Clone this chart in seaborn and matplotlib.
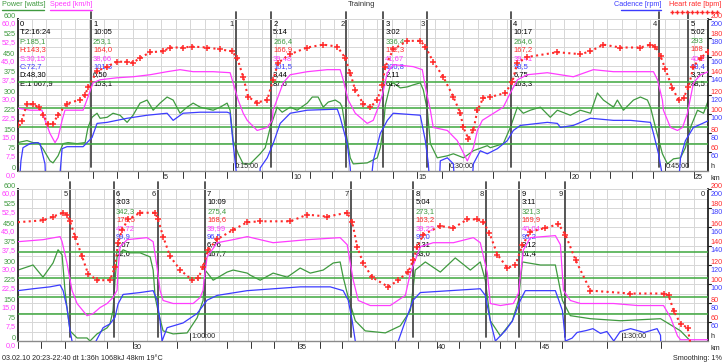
import matplotlib
matplotlib.use("Agg")
import numpy as np
import pandas as pd
import matplotlib.pyplot as plt
import seaborn as sns
from matplotlib.lines import Line2D
from matplotlib.ticker import MultipleLocator
from matplotlib import transforms

sns.set_style("white")
plt.rcParams["font.family"] = ["Liberation Sans Narrow", "Liberation Sans", "DejaVu Sans"]

# ---- recorded series: minutes from start / value ----
power_t = [0.0, 0.66, 1.08, 1.43, 1.77, 2.26, 2.47, 2.82, 3.17, 3.51, 4.14, 4.70, 4.90, 5.18, 5.53, 5.74,
           6.23, 6.64, 7.13, 7.62, 8.03, 8.52, 9.01, 9.43, 9.91, 10.40, 10.82, 11.30, 11.79, 12.21, 12.70,
           13.60, 14.09, 14.57, 14.78, 14.99, 15.34, 15.69, 16.17, 16.87, 17.22, 17.57, 18.05, 18.40, 18.96,
           19.44, 20.14, 20.49, 20.90, 21.25, 21.60, 22.09, 22.43, 22.57, 22.78, 23.13, 23.34, 24.31, 25.01,
           25.22, 25.43, 25.57, 25.91, 26.12, 26.61, 27.10, 27.51, 28.00, 28.21, 28.49, 28.70, 29.18, 29.88,
           30.30, 31.01, 31.69, 32.66, 32.87, 33.77, 34.26, 34.75, 35.16, 35.65, 36.35, 37.04, 37.53, 38.43,
           39.13, 39.83, 40.31, 40.73, 41.43, 41.70, 42.12, 42.82, 43.30, 43.79, 44.00, 44.35, 44.83, 45.18,
           45.60, 46.09, 46.43, 46.78, 47.27, 47.69, 48.03, 49.08, 49.77, 50.47, 50.82, 51.10, 51.30, 51.44,
           51.65, 52.14, 52.83, 53.04, 53.53, 54.23, 54.43, 54.64, 54.78, 54.92, 55.34, 55.83, 56.52, 57.22,
           57.43, 57.57, 57.77, 58.12, 58.82, 59.79, 60.49, 60.90, 61.04, 61.60, 62.57, 62.99, 63.97, 64.17,
           64.87, 65.77, 66.75, 67.65, 68.35, 69.25, 69.95, 70.43, 70.64, 70.92, 71.48, 72.17, 73.57, 74.61,
           75.31, 75.65, 76.35, 77.39, 78.43, 79.48, 80.17, 80.52, 80.87, 81.57, 82.40, 82.82, 83.10, 84.35,
           85.39, 85.88, 86.43, 87.83, 89.92, 92.70, 94.09, 94.78]
power_w = [112, 120, 112, 112, 88, 40, 32, 60, 108, 112, 108, 112, 172, 212, 228, 208,
           212, 228, 220, 192, 220, 268, 280, 240, 268, 292, 280, 228, 252, 268, 252,
           240, 252, 268, 240, 120, 68, 28, 28, 68, 92, 172, 252, 232, 252,
           240, 268, 292, 292, 252, 272, 280, 268, 252, 172, 52, 28, 32, 52,
           92, 172, 260, 340, 348, 328, 332, 340, 348, 320, 240, 108, 52, 60,
           68, 52, 80, 100, 92, 108, 172, 252, 228, 240, 252, 212, 240, 220,
           240, 228, 308, 280, 252, 280, 240, 280, 292, 280, 252, 172, 68, 28,
           48, 52, 92, 172, 240, 228, 280, 300, 252, 308, 360, 340, 200, 132,
           40, 12, 12, 0, 28, 52, 68, 120, 240, 332, 360, 348, 348, 332,
           280, 172, 120, 40, 28, 32, 92, 160, 280, 240, 272, 280, 268, 260,
           240, 268, 252, 288, 268, 280, 308, 312, 252, 188, 80, 40, 32, 60,
           120, 280, 312, 272, 328, 280, 312, 240, 80, 20, 80, 160, 312, 300,
           300, 160, 100, 88, 80, 88, 40, 0]

speed_t = [0.03, 0.87, 1.70, 1.91, 2.26, 2.61, 2.82, 3.10, 3.30, 4.56, 4.90, 5.25, 5.74, 6.92, 8.03, 9.22,
           10.40, 11.30, 12.21, 13.60, 14.78, 14.99, 15.34, 15.69, 15.97, 16.66, 17.36, 17.71, 17.77, 18.47,
           18.96, 20.14, 21.53, 22.43, 22.64, 22.99, 23.48, 24.31, 24.73, 25.08, 25.36, 25.71, 26.12, 27.51,
           28.14, 28.35, 28.70, 28.90, 29.88, 30.57, 31.27, 31.69, 31.97, 32.31, 32.87, 33.77, 34.26, 34.75,
           35.44, 36.83, 38.64, 40.03, 41.43, 44.21, 44.49, 44.83, 44.90, 45.39, 45.88, 46.23, 46.57, 46.99,
           47.48, 48.03, 49.77, 50.96, 51.10, 51.44, 51.79, 52.14, 52.83, 53.25, 53.74, 54.23, 54.64, 54.92,
           54.99, 55.13, 55.62, 57.01, 57.43, 57.70, 57.91, 58.12, 58.82, 60.21, 60.70, 60.90, 60.97, 61.18,
           61.88, 62.99, 63.97, 65.77, 68.14, 70.43, 70.92, 71.34, 71.69, 72.52, 73.91, 74.96, 75.31, 76.00,
           76.90, 78.30, 79.69, 80.17, 80.66, 80.87, 81.57, 82.47, 82.82, 83.17, 83.65, 85.39, 85.74, 85.95,
           86.43, 87.13, 89.43, 91.10, 92.91, 93.40, 93.88, 94.09, 96.0]
speed_v = [24.8, 24.0, 24.0, 20.0, 14.8, 11.2, 13.2, 20.0, 24.0, 24.0, 29.2, 34.8, 36.0, 36.8, 37.2, 38.0,
           39.2, 40.0, 39.2, 39.2, 38.8, 34.8, 28.0, 22.8, 20.0, 16.0, 17.2, 20.0, 24.0, 34.8,
           38.0, 39.2, 40.0, 40.0, 36.0, 28.0, 22.8, 18.8, 20.0, 25.2, 30.0, 38.8, 42.0, 41.2,
           40.0, 33.2, 24.0, 17.2, 16.0, 12.0, 4.0, 9.2, 16.0, 20.0, 22.0, 25.2, 30.8, 36.0,
           38.0, 38.8, 37.2, 40.0, 39.2, 39.2, 36.0, 28.0, 24.0, 17.2, 16.0, 17.2, 22.8, 34.8,
           38.0, 39.2, 40.0, 41.2, 39.2, 30.8, 20.0, 14.8, 10.0, 10.8, 13.2, 14.8, 17.2, 20.0,
           28.0, 37.2, 40.0, 40.8, 39.2, 29.2, 20.0, 16.0, 14.8, 14.8, 17.2, 20.0, 24.0, 33.2,
           38.8, 40.0, 41.2, 38.8, 40.0, 40.8, 38.0, 24.0, 16.0, 14.0, 14.0, 18.0, 26.8, 37.2,
           38.8, 38.8, 40.8, 38.8, 26.8, 14.8, 14.0, 14.8, 18.8, 36.0, 40.8, 41.6, 38.0, 20.0,
           16.0, 14.8, 14.8, 14.0, 14.0, 9.2, 2.0, 0.5, 0.5]

hr_t = [0.03, 0.31, 0.66, 1.08, 1.50, 1.77, 2.12, 2.47, 2.82, 3.44, 4.35, 4.70, 4.90, 5.53, 6.23, 6.92,
        7.62, 8.03, 8.52, 9.22, 10.12, 10.61, 11.51, 12.14, 13.18, 14.09, 14.92, 15.27, 15.69, 16.03,
        16.66, 17.36, 17.77, 18.12, 18.96, 20.14, 21.25, 22.23, 22.78, 23.13, 23.48, 24.03, 24.52, 25.01,
        25.36, 25.57, 26.12, 27.10, 28.00, 28.35, 28.90, 29.60, 30.30, 30.78, 30.99, 31.34, 31.69, 31.97,
        32.38, 32.87, 33.91, 34.40, 34.75, 35.44, 37.53, 39.13, 39.83, 40.73, 41.91, 43.30, 44.00, 44.35,
        44.70, 45.04, 45.53, 45.95, 46.30, 46.64, 46.99, 47.48, 47.97, 49.77, 50.47, 51.17, 51.44, 51.65,
        52.00, 52.49, 52.90, 53.53, 54.43, 54.78, 54.99, 55.27, 55.69, 56.52, 57.57, 57.77, 58.12, 58.61,
        59.30, 60.14, 60.56, 60.90, 61.25, 61.88, 62.99, 63.97, 64.87, 66.96, 68.14, 69.53, 70.92, 71.27,
        71.62, 72.03, 72.66, 73.77, 74.47, 75.17, 75.51, 75.79, 76.21, 77.39, 78.30, 79.27, 79.97, 80.38,
        80.80, 81.36, 82.05, 82.61, 83.10, 83.65, 84.70, 85.60, 86.09, 86.80, 87.83, 90.61, 92.91, 93.26,
        93.61, 94.09, 94.58, 94.78]
hr_v = [88, 93, 111, 110, 107, 99, 90, 90, 99, 111, 115, 120, 128, 145, 150, 155,
        155, 154, 159, 165, 166, 170, 170, 171, 170, 168, 166, 159, 139, 118,
        112, 115, 136, 154, 163, 170, 173, 171, 159, 143, 125, 111, 107, 115,
        131, 150, 168, 177, 177, 171, 155, 139, 118, 101, 86, 74, 83, 104,
        117, 118, 122, 134, 154, 160, 165, 163, 166, 173, 170, 170, 173, 171,
        161, 147, 127, 115, 117, 128, 150, 159, 165, 167, 171, 175, 173, 166,
        150, 129, 111, 104, 104, 118, 143, 157, 168, 175, 175, 168, 150, 129,
        115, 104, 106, 118, 136, 147, 157, 165, 166, 166, 173, 171, 175, 165,
        139, 122, 107, 97, 104, 113, 125, 139, 152, 161, 159, 168, 168, 165,
        154, 131, 117, 120, 141, 155, 159, 163, 152, 125, 93, 90, 90, 88,
        72, 58, 54, 37]

cad_t = [0.0, 0.24, 0.38, 0.87, 1.36, 1.57, 1.91, 2.05, 2.75, 3.10, 3.44, 4.56, 5.18, 5.53, 6.23, 7.62,
         9.01, 10.40, 10.82, 11.51, 12.70, 14.57, 14.78, 14.99, 15.20, 15.34, 16.73, 16.87, 17.36, 17.77,
         18.26, 18.96, 20.14, 22.23, 22.43, 22.92, 23.13, 23.27, 24.38, 24.73, 25.22, 25.71, 26.12, 28.00,
         28.35, 28.56, 28.77, 29.25, 29.39, 29.88, 30.30, 30.50, 31.48, 31.69, 32.17, 32.66, 33.36, 34.05,
         34.47, 34.96, 36.83, 37.53, 37.74, 38.64, 39.83, 41.43, 42.61, 44.00, 44.21, 44.56, 44.77, 44.90,
         45.81, 46.09, 46.43, 46.99, 47.62, 48.03, 49.08, 50.26, 50.96, 51.17, 51.44, 51.65, 51.79, 51.90,
         53.35, 53.46, 53.95, 54.43, 54.78, 54.99, 55.34, 56.52, 57.43, 57.70, 57.91, 58.05, 58.40, 59.51,
         60.49, 61.18, 61.88, 63.97, 67.65, 69.74, 70.64, 70.99, 71.27, 71.48, 71.60, 74.35, 74.47, 74.96,
         75.51, 76.00, 78.09, 80.17, 80.52, 80.87, 81.22, 81.92, 82.40, 82.96, 83.30, 85.39, 85.88, 86.09,
         86.55, 86.90, 87.53, 88.0, 88.53, 88.97, 89.45, 89.90, 90.62, 91.56, 92.46, 92.70, 92.80, 96.0]
cad_v = [0, 50.7, 64.5, 68.8, 69.9, 68.8, 47.5, 0, 0, 63.5, 65.6, 65.6, 75.2, 90.1, 91.2, 95.5,
         98.7, 100.8, 93.3, 100.8, 101.9, 101.9, 100.8, 68.8, 40, 0, 0, 43.2, 53.9, 68.8,
         90.1, 100.8, 104.0, 105.1, 96.5, 68.8, 43.2, 0, 0, 50.7, 79.5, 93.3, 100.8, 98.7,
         72.0, 47.5, 0, 0, 50.7, 53.9, 47.5, 0, 0, 47.5, 61.3, 58.1, 63.5, 72.0,
         82.7, 88.0, 91.2, 90.1, 85.9, 88.0, 95.5, 93.3, 93.3, 91.2, 79.5, 58.1, 40, 0,
         0, 53.9, 72.0, 85.9, 90.1, 93, 95, 97, 99, 93, 75, 51, 40, 0,
         0, 40, 54, 58, 65, 79, 89, 91, 93, 83, 61, 40, 54, 59,
         69, 83, 88, 93, 97, 97, 93, 83, 61, 40, 0, 0, 40, 61,
         83, 91, 93, 95, 88, 61, 40, 51, 61, 83, 93, 93, 72, 40,
         43, 49, 51, 53, 48, 50, 40, 50, 53, 49, 53, 46, 0, 0]

# ---- laps ----
lap_start = [5.11, 17.63, 25.43, 34.33, 46.64, 54.71, 61.04, 75.51, 82.89]
lap_time = ["10:05", "5:14", "3:02", "10:17", "5:02", "3:03", "10:09", "5:04", "3:11"]
lap_power = ["253,1", "266,4", "336,4", "264,6", "293", "342,3", "275,4", "273,1", "321,3"]
lap_hr = ["164,0", "166,9", "172,3", "167,2", "168", "170,5", "168,6", "163,2", "169,9"]
lap_speed = ["38,66", "39,48", "41,67", "39,41", "40,2", "40,72", "39,99", "39,22", "40,04"]
lap_cad = ["101,3", "101,5", "100,8", "98,5", "98,4", "99,9", "96,5", "99,0", "95,2"]
lap_dist = ["6,50", "3,44", "2,11", "6,75", "3,37", "2,07", "6,76", "3,31", "2,12"]
lap_extra = ["153,1", "87,6", "61,2", "163,3", "88,5", "62,6", "167,7", "83,0", "61,4"]
summary = ["0", "T:2:16:24", "P:185,1", "H:143,3", "S:30,15", "C:72,7", "D:48,30", "E:1 067,9"]

hr_zones = [134, 106, 86, 68]
# minute at which each whole km was passed (km 1 .. 48)
km_marks_t = [3.51, 5.25, 6.92, 8.38, 10.12, 11.51, 13.04, 14.57, 17.01, 19.10,
              20.35, 21.88, 23.83, 26.12, 27.79, 29.53, 33.08, 34.96, 36.70, 38.43,
              39.83, 41.22, 42.75, 44.21, 47.00, 48.03, 49.63, 51.30, 54.23, 56.03,
              59.10, 62.57, 64.24, 65.84, 67.51, 69.04, 70.57, 74.26, 75.86, 77.18,
              78.71, 80.17, 81.57, 82.61, 84.35, 85.88, 89.01, 92.70]
km_marks = list(range(1, 49))
clock_marks = [15, 30, 45, 60, 90]

GREEN, ZONE, MAG, BLUE, RED = "#3f9a3f", "#3fa83f", "#ff3cff", "#3c3cff", "#ff2a2a"
LAP = "#4a4a4a"

W, H = 725.0, 364.0
fig = plt.figure(figsize=(7.25, 3.64), dpi=100)


def px_rect(x0, y0, x1, y1):
    return [x0 / W, 1 - y1 / H, (x1 - x0) / W, (y1 - y0) / H]


def off(trans, dx, dy):
    return transforms.offset_copy(trans, fig=fig, x=dx, y=dy, units="dots")


def clock(m):
    return f"{int(m // 60)}:{int(m % 60):02d}:00"


def dur(s):
    mm, ss = s.split(":")
    return int(mm) + int(ss) / 60


df_p = pd.DataFrame({"t": power_t, "v": power_w})
df_s = pd.DataFrame({"t": speed_t, "v": speed_v})
df_h = pd.DataFrame({"t": hr_t, "v": hr_v})
df_c = pd.DataFrame({"t": cad_t, "v": cad_v})

panels = [((0, 48), (17.5, 19, 708, 171)), ((48, 96), (17.5, 189, 708, 341))]
fs = 5.5     # lap text
fa = 5.2     # axis numbers
fl = 5.2     # header / footer
row_h = 8.4

for (t0, t1), box in panels:
    ax = fig.add_axes(px_rect(*box))
    axc = ax.twinx()
    axs = ax.twinx()
    axh = ax.twinx()
    ax.set_xlim(t0, t1)
    ax.set_ylim(0, 600)
    axs.set_ylim(0, 60)
    axc.set_ylim(40, 200)
    axh.set_ylim(40, 200)
    for a in (axc, axs, axh):
        a.set_axis_off()

    ax.xaxis.set_major_locator(MultipleLocator(1))
    ax.yaxis.set_major_locator(MultipleLocator(37.5))
    ax.grid(True, color="#d6d6d6", lw=0.7)
    ax.tick_params(length=0, labelleft=False, labelbottom=False)
    for side, sp in ax.spines.items():
        sp.set_color({"left": "#333333", "right": "#111111", "bottom": "#8a8a8a", "top": "#d6d6d6"}[side])
        sp.set_linewidth({"left": 1.4, "right": 1.2, "bottom": 1.0, "top": 0.7}[side])

    for z in hr_zones:
        axc.axhline(z, color=ZONE, lw=1.1, zorder=1)

    sns.lineplot(data=df_c, x="t", y="v", ax=axc, color=BLUE, lw=0.9, estimator=None, sort=False)
    sns.lineplot(data=df_p, x="t", y="v", ax=ax, color=GREEN, lw=0.9, estimator=None, sort=False)
    sns.lineplot(data=df_s, x="t", y="v", ax=axs, color=MAG, lw=0.9, estimator=None, sort=False)
    sns.lineplot(data=df_h, x="t", y="v", ax=axh, color=RED, lw=1.5, estimator=None, sort=False,
                 linestyle=(0, (1.0, 1.6)), marker="+", markersize=4.5, markeredgewidth=1.1,
                 markeredgecolor=RED)
    ax.set_xlabel("")
    ax.set_ylabel("")

    # left labels: power (green) and speed (magenta)
    for p in range(0, 601, 75):
        ax.text(-0.003, p, f"{p}", transform=off(ax.get_yaxis_transform(), 0, 3), color=GREEN,
                fontsize=fa, ha="right", va="center")
        axs.text(-0.003, p / 10, f"{p / 10:.1f}".replace(".", ","),
                 transform=off(axs.get_yaxis_transform(), 0, -5), color=MAG, fontsize=fa,
                 ha="right", va="center")
    # right labels: heart rate (red) and cadence (blue)
    for v in range(60, 201, 20):
        axh.text(1.004, v, f"{v}", transform=off(axh.get_yaxis_transform(), 0, 3), color=RED,
                 fontsize=fa, ha="left", va="center")
        axc.text(1.004, v, f"{v}", transform=off(axc.get_yaxis_transform(), 0, -5), color=BLUE,
                 fontsize=fa, ha="left", va="center")
        axc.plot([1.0, 1.005], [v, v], transform=axc.get_yaxis_transform(), color="#222222",
                 lw=0.8, clip_on=False)
    ax.text(1.003, 0, "h", transform=off(ax.get_yaxis_transform(), 0, 1), fontsize=fa,
            ha="left", va="bottom")
    ax.text(1.003, 0, "km", transform=off(ax.get_yaxis_transform(), 0, -4), fontsize=fa,
            ha="left", va="top")

    tx = ax.get_xaxis_transform()
    # km marks under the axis
    for t, k in zip(km_marks_t, km_marks):
        if t0 <= t <= t1:
            ax.plot([t, t], [0, -0.045], transform=tx, color="#333333", lw=0.7, clip_on=False)
            if k % 5 == 0:
                ax.text(t, 0, f"{k}", transform=off(tx, 1, -3), fontsize=fa, ha="left", va="top")
    # clock marks
    for m in clock_marks:
        if t0 < m < t1:
            ax.plot([m, m], [0, 0.05], transform=tx, color="#333333", lw=0.7)
            ax.text(m, 0, clock(m), transform=off(tx, 1, 4), fontsize=fa, ha="left", va="center")

    # laps
    for i, s in enumerate(lap_start):
        e = s + dur(lap_time[i])
        n = str(i + 1)
        for x, is_start in ((s, True), (e, False)):
            if t0 <= x <= t1:
                ax.plot([x, x], [0.025, 1.045], transform=tx, color=LAP, lw=1.3, clip_on=False)
                if is_start:
                    rows = [(n, "black"), (lap_time[i], "black"), (lap_power[i], GREEN),
                            (lap_hr[i], RED), (lap_speed[i], MAG), (lap_cad[i], BLUE),
                            (lap_dist[i], "black"), (lap_extra[i], "black")]
                    for r, (txt, col) in enumerate(rows):
                        ax.text(x, 1, txt, transform=off(tx, 2, -(5.5 + row_h * r)), color=col,
                                fontsize=fs, ha="left", va="center")
                else:
                    ax.text(x, 1, n, transform=off(tx, -2, -5.5), fontsize=fs, ha="right", va="center")

    if t0 == 0:
        cols = ["black", "black", GREEN, RED, MAG, BLUE, "black", "black"]
        for r, (txt, col) in enumerate(zip(summary, cols)):
            ax.text(0, 1, txt, transform=off(tx, 2, -(5.5 + row_h * r)), color=col,
                    fontsize=fs, ha="left", va="center")
    else:
        ax.text(t1, 1, "0", transform=off(tx, -3, -5.5), fontsize=fs, ha="right", va="center")


# header legend
def legend_item(x0, x1, text, col, plus=False, right=False):
    fig.text((x1 if right else x0) / W, 1 - 5 / H, text, color=col, fontsize=fl,
             ha="right" if right else "left", va="center")
    y = 1 - (12 if plus else 10) / H
    if plus:
        xs = np.arange(x0 + 2, x1, 5) / W
        fig.add_artist(Line2D(xs, [y] * len(xs), color=col, lw=0.8, linestyle=(0, (1, 1.5)),
                              marker="+", markersize=3.5, markeredgewidth=1,
                              transform=fig.transFigure))
    else:
        fig.add_artist(Line2D([x0 / W, x1 / W], [y] * 2, color=col, lw=1.0, transform=fig.transFigure))


legend_item(2, 44, "Power [watts]", GREEN)
legend_item(50, 92, "Speed [km/h]", MAG)
legend_item(621, 661, "Cadence [rpm]", BLUE, right=True)
legend_item(670, 721, "Heart rate [bpm]", RED, plus=True, right=True)
fig.text(362 / W, 1 - 5 / H, "Training", fontsize=fl + 0.3, ha="center", va="center", color="#333333")

fig.text(2 / W, 1 - 358 / H, "03.02.10 20:23-22:40 dt 1:36h 1068kJ 48km 19°C", fontsize=fl,
         ha="left", va="center")
fig.text(722 / W, 1 - 359 / H, "Smoothing: 1%", fontsize=fl, ha="right", va="center")

fig.savefig("out.png", dpi=100)
